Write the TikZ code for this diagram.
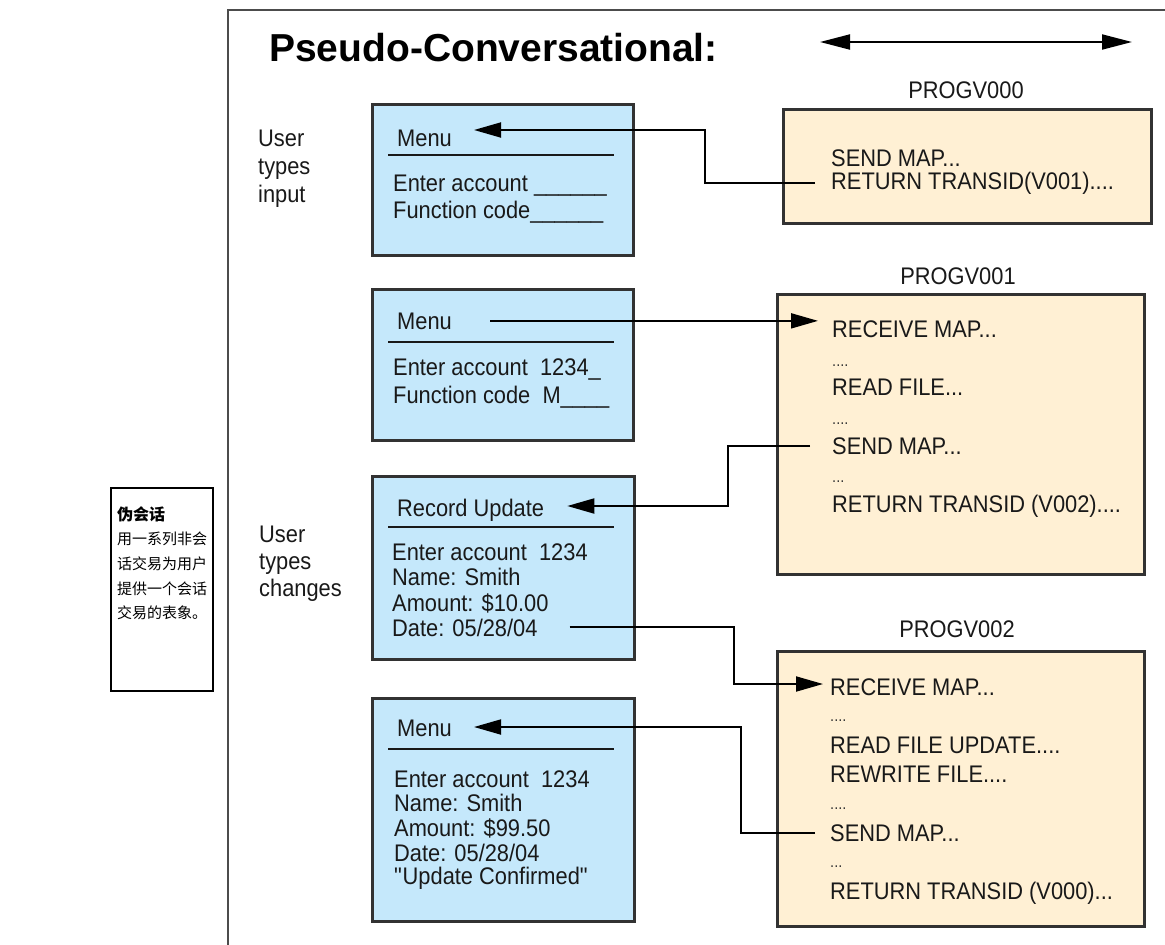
\documentclass[tikz,border=0pt]{standalone}
\usepackage{fontspec}
\setmainfont{Liberation Sans}
\newfontfamily\narrowf{Liberation Sans}[FakeStretch=0.91]
\newfontfamily\cjk{Noto Sans CJK SC}
\usetikzlibrary{arrows.meta}
\definecolor{boxblue}{RGB}{197,232,251}
\definecolor{boxtan}{RGB}{255,240,212}
\definecolor{edge}{RGB}{50,50,50}
\newcommand{\bodyf}{\narrowf\fontsize{24}{27}\selectfont}
\newcommand{\dotf}{\narrowf\fontsize{16}{18}\selectfont}
\newcommand{\cjkf}{\cjk\fontsize{15}{17}\selectfont}
\tikzset{
  txt/.style={font=\bodyf, anchor=base west, inner sep=0pt, text=black!90},
  dots/.style={font=\dotf, anchor=base west, inner sep=0pt, text=black!80},
  lbl/.style={font=\bodyf, anchor=base, inner sep=0pt, text=black!90},
  cjktxt/.style={font=\cjkf, anchor=west, inner sep=0pt},
  screen/.style={draw=edge, line width=2.6pt, fill=boxblue, anchor=north west, inner sep=0pt},
  prog/.style={draw=edge, line width=2.6pt, fill=boxtan, anchor=north west, inner sep=0pt},
  rule/.style={line width=1.8pt, black!90},
  arr/.style={line width=1.9pt, black, -{Triangle[length=27pt,width=15pt]}},
}
\begin{document}
\begin{tikzpicture}[x=1pt,y=-1pt]
\useasboundingbox (0,0) rectangle (1165,945);
\fill[white] (0,0) rectangle (1165,945);
% outer frame
\draw[line width=2pt, black!70] (228,945) -- (228,10) -- (1165,10);
% title and double arrow
\node[anchor=base west, inner sep=0pt, font=\bfseries\fontsize{39}{44}\selectfont] (title) at (269,61) {Pseudo-Conversational:};
\coordinate (da1) at (820,42);
\coordinate (da2) at (1132,42);
\draw[line width=1.9pt, black, {Triangle[length=30pt,width=15pt]}-{Triangle[length=30pt,width=15pt]}] (da1) -- (da2);

% side labels
\node[txt] (ui1) at (258,146) {User};
\node[txt] (ui2) at (258,174) {types};
\node[txt] (ui3) at (258,202) {input};
\node[txt] (uc1) at (259,542) {User};
\node[txt] (uc2) at (259,569) {types};
\node[txt] (uc3) at (259,596) {changes};

% Chinese note
\node[draw=black, line width=1.6pt, anchor=north west, minimum width=102pt, minimum height=203pt, inner sep=0pt] (note) at (110,487) {};
\node[cjktxt, font=\cjk\fontsize{16}{18}\selectfont\bfseries] (n1) at (117,514) {伪会话};
\node[cjktxt] (n2) at (117,539) {用一系列非会};
\node[cjktxt] (n3) at (117,564) {话交易为用户};
\node[cjktxt] (n4) at (117,589) {提供一个会话};
\node[cjktxt] (n5) at (117,613) {交易的表象。};

% program boxes
\node[prog, minimum width=368pt, minimum height=114pt] (p0) at (782,108) {};
\node[lbl] (p0l) at (966,98) {PROGV000};
\node[txt] (p0send) at (831,166) {SEND MAP...};
\node[txt] (p0ret) at (831,189) {RETURN TRANSID(V001)....};

\node[prog, minimum width=367pt, minimum height=280pt] (p1) at (776,293) {};
\node[lbl] (p1l) at (958,284) {PROGV001};
\node[txt] (p1rec) at (832,337) {RECEIVE MAP...};
\node[dots] (p1d1) at (832,366) {....};
\node[txt] (p1read) at (832,395) {READ FILE...};
\node[dots] (p1d2) at (832,424) {....};
\node[txt] (p1send) at (832,454) {SEND MAP...};
\node[dots] (p1d3) at (832,482) {...};
\node[txt] (p1ret) at (832,512) {RETURN TRANSID (V002)....};

\node[prog, minimum width=367pt, minimum height=275pt] (p2) at (776,650) {};
\node[lbl] (p2l) at (957,637) {PROGV002};
\node[txt] (p2rec) at (830,695) {RECEIVE MAP...};
\node[dots] (p2d1) at (830,721) {....};
\node[txt] (p2read) at (830,753) {READ FILE UPDATE....};
\node[txt] (p2rew) at (830,782) {REWRITE FILE....};
\node[dots] (p2d2) at (830,809) {....};
\node[txt] (p2send) at (830,841) {SEND MAP...};
\node[dots] (p2d3) at (830,867) {...};
\node[txt] (p2ret) at (830,899) {RETURN TRANSID (V000)...};

% screens
\node[screen, minimum width=261pt, minimum height=151pt] (s1) at (371,103) {};
\node[txt] (s1m) at (397,146) {Menu};
\draw[rule] (388,155) -- (614,155);
\node[txt] (s1a) at (393,191) {Enter account \_\_\_\_\_\_};
\node[txt] (s1b) at (393,218) {Function code\_\_\_\_\_\_};

\node[screen, minimum width=261pt, minimum height=151pt] (s2) at (371,288) {};
\node[txt] (s2m) at (397,329) {Menu};
\draw[rule] (388,342) -- (614,342);
\node[txt] (s2a) at (393,375) {Enter account\ \ 1234\_};
\node[txt] (s2b) at (393,403) {Function code\ \ M\_\_\_\_};

\node[screen, minimum width=262pt, minimum height=183pt] (s3) at (371,475) {};
\node[txt] (s3m) at (397,516) {Record Update};
\draw[rule] (388,527) -- (614,527);
\node[txt] (s3a) at (392,560) {Enter account\ \ 1234};
\node[txt] (s3b) at (392,585) {Name: Smith};
\node[txt] (s3c) at (392,611) {Amount: \$10.00};
\node[txt] (s3d) at (392,636) {Date: 05/28/04};

\node[screen, minimum width=262pt, minimum height=223pt] (s4) at (371,697) {};
\node[txt] (s4m) at (397,736) {Menu};
\draw[rule] (388,749) -- (614,749);
\node[txt] (s4a) at (394,787) {Enter account\ \ 1234};
\node[txt] (s4b) at (394,811) {Name: Smith};
\node[txt] (s4c) at (394,836) {Amount: \$99.50};
\node[txt] (s4d) at (394,861) {Date: 05/28/04};
\node[txt] (s4e) at (394,884) {\textquotedbl Update Confirmed\textquotedbl};

% connectors
\coordinate (k1) at (705,130);
\draw[arr] ([xshift=-16pt]p0ret.west) -| (k1) -- ([xshift=22pt]s1m.east |- k1);

\draw[arr] ([xshift=38pt]s2m.east) -- ([xshift=-14pt]s2m.east -| p1rec.west);

\coordinate (k3) at (728,506);
\draw[arr] ([xshift=-22pt]p1send.west) -| (k3) -- ([xshift=23pt]s3m.east |- k3);

\coordinate (k4) at (734,684);
\draw[arr] ([xshift=32pt]s3d.east) -| (k4) -- ([xshift=-7pt]p2rec.west |- k4);

\coordinate (k5) at (741,727);
\draw[arr] ([xshift=-15pt]p2send.west) -| (k5) -- ([xshift=22pt]s4m.east |- k5);
\end{tikzpicture}
\end{document}
